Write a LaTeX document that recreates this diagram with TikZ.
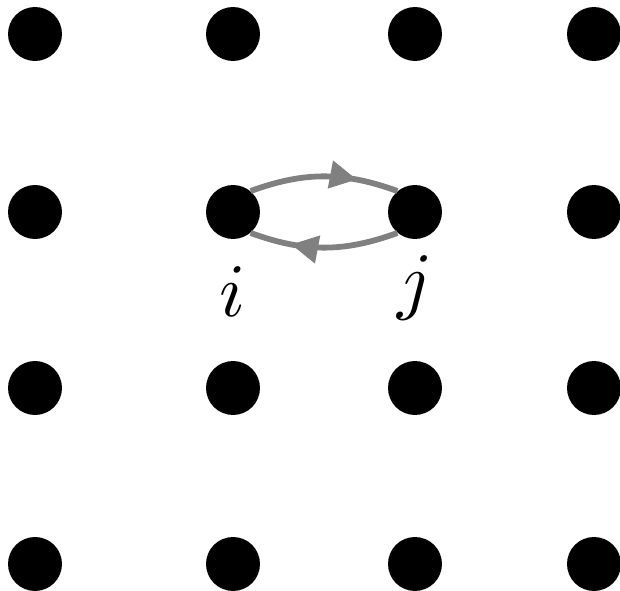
\documentclass[tikz,border=0pt]{standalone}
\usepackage{amsmath,amssymb}
\usepackage{xcolor}
\usepackage{tikz}
\usetikzlibrary{arrows.meta,decorations.markings}
\definecolor{hopc}{RGB}{128,128,128}

\begin{document}
\begin{tikzpicture}[x=0.02cm,y=-0.02cm,line join=round,
  site/.style={circle,fill=black,inner sep=0pt,minimum size=1.08cm},
  hop/.style={line width=3.3pt,hopc,decoration={markings,mark=at position 0.72 with {\arrow{Triangle[length=5.4mm,width=5.4mm]}}},postaction={decorate}},
  lbl/.style={scale=4.3,anchor=base,inner sep=0pt}]
  \useasboundingbox (0,0) rectangle (620,591);
  \foreach \x/\c in {35/1,233/2,415/3,594/4}
    \foreach \y/\r in {34/1,212/2,388/3,564/4}
      \node[site] (s\c\r) at (\x,\y) {};
  \draw[hop] (s22.50) to[out=20,in=160] (s32.130);
  \draw[hop] (s32.-130) to[out=-160,in=-20] (s22.-50);
  \node[lbl] (li) at (233,317) {$i$};
  \node[lbl] (lj) at (415,306) {$j$};
\end{tikzpicture}
\end{document}
